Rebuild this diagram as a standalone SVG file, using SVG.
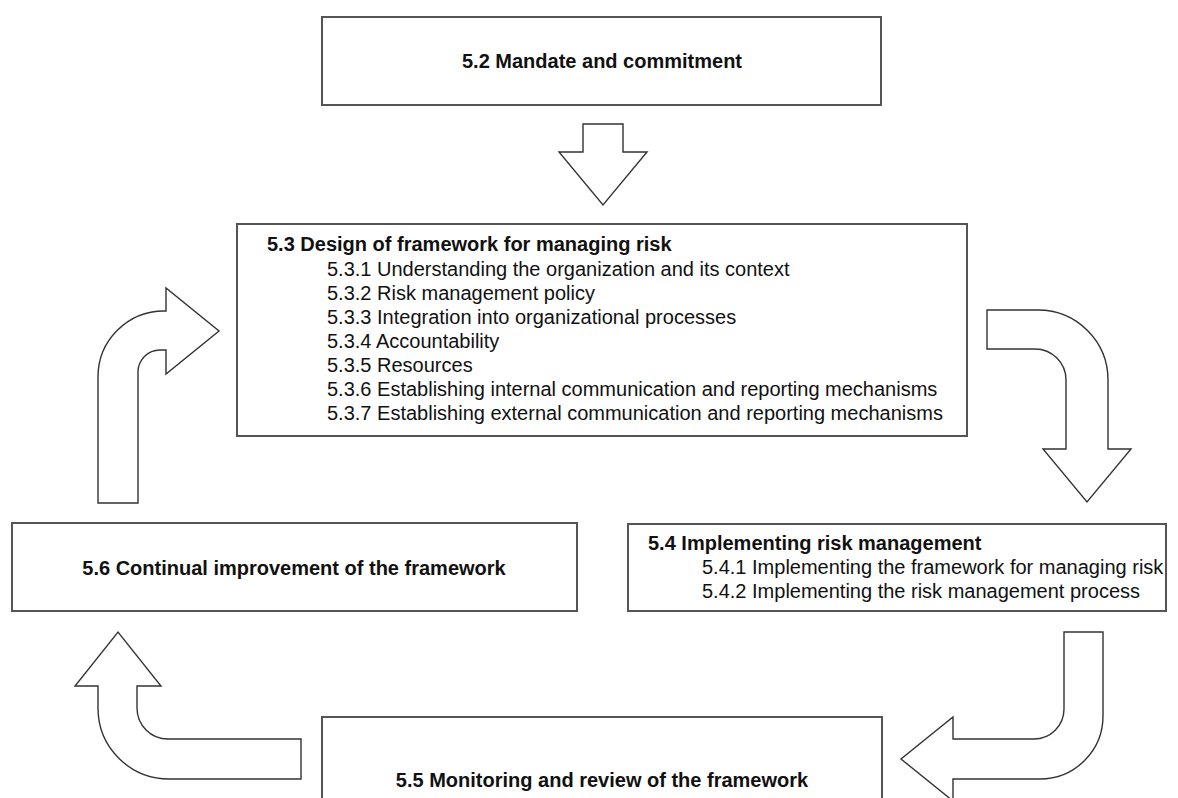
<svg xmlns="http://www.w3.org/2000/svg" width="1178" height="798" viewBox="0 0 1178 798">
<style>
.box{fill:#fff;stroke:#555;stroke-width:2}
.arr{fill:#fff;stroke:#333;stroke-width:1.4;stroke-linejoin:miter}
.h{font-family:"Liberation Sans",Arial,sans-serif;font-size:20px;font-weight:bold;fill:#111}
.t{font-family:"Liberation Sans",Arial,sans-serif;font-size:20px;fill:#111}
</style>
<rect width="1178" height="798" fill="#fff"/>
<g id="connectors">
<path class="arr" d="M583,124 H623 V152 H647 L603,205 L559,152 H583 Z"/>
<path class="arr" d="M98,503 V377 A66,66 0 0 1 164,311 H166 V288 L219,331 L166,374 V350 H160 A22,22 0 0 0 138,372 V503 Z"/>
<path class="arr" d="M987,310 H1038 A70,70 0 0 1 1108,380 V449 H1131 L1087,502 L1043,449 H1066 V380 A31,31 0 0 0 1035,349 H987 Z"/>
<path class="arr" d="M1064,632 H1103 V716 A63,63 0 0 1 1040,779 H953 V801 L901,759 L953,717 V739 H1034 A30,30 0 0 0 1064,709 Z"/>
<path class="arr" d="M301,739 V779 H169 A71,71 0 0 1 98,708 V686 H75 L118,632 L161,686 H137 V708 A31,31 0 0 0 168,739 Z"/>
</g>
<g id="n52">
<rect class="box" x="322" y="17" width="559" height="88"/>
<text class="h" x="602" y="68" text-anchor="middle">5.2 Mandate and commitment</text>
</g>
<g id="n53">
<rect class="box" x="237" y="224" width="730" height="212"/>
<text class="h" x="267" y="251">5.3 Design of framework for managing risk</text>
<text class="t" x="327" y="276">5.3.1 Understanding the organization and its context</text>
<text class="t" x="327" y="300">5.3.2 Risk management policy</text>
<text class="t" x="327" y="324">5.3.3 Integration into organizational processes</text>
<text class="t" x="327" y="348">5.3.4 Accountability</text>
<text class="t" x="327" y="372">5.3.5 Resources</text>
<text class="t" x="327" y="396">5.3.6 Establishing internal communication and reporting mechanisms</text>
<text class="t" x="327" y="420">5.3.7 Establishing external communication and reporting mechanisms</text>
</g>
<g id="n54">
<rect class="box" x="628" y="524" width="538" height="87"/>
<text class="h" x="648" y="550">5.4 Implementing risk management</text>
<text class="t" x="702" y="574">5.4.1 Implementing the framework for managing risk</text>
<text class="t" x="702" y="598">5.4.2 Implementing the risk management process</text>
</g>
<g id="n55">
<rect class="box" x="322" y="717" width="560" height="100"/>
<text class="h" x="602" y="787" text-anchor="middle">5.5 Monitoring and review of the framework</text>
</g>
<g id="n56">
<rect class="box" x="12" y="523" width="565" height="88"/>
<text class="h" x="294" y="575" text-anchor="middle">5.6 Continual improvement of the framework</text>
</g>
</svg>
